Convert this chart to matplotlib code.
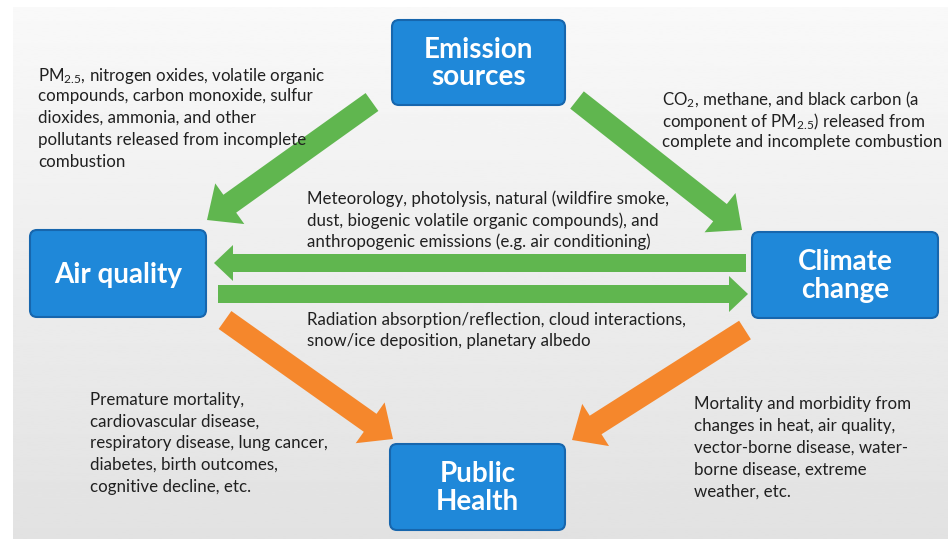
"""Air quality / climate change / health pathway diagram."""

import matplotlib.pyplot as plt
import numpy as np
from matplotlib.patches import FancyArrow, FancyBboxPatch

plt.rcParams["font.family"] = ["Lato", "DejaVu Sans"]
plt.rcParams["mathtext.fontset"] = "custom"
plt.rcParams["mathtext.rm"] = "Lato"
plt.rcParams["mathtext.it"] = "Lato:italic"
plt.rcParams["mathtext.bf"] = "Lato:bold"

W, H = 948, 539

# box labels and their extents (x0, y0, x1, y1) in pixels
box_labels = ["Emission\nsources", "Air quality", "Climate\nchange", "Public\nHealth"]
box_extents = [(392, 20, 565, 105), (30, 230, 206, 317), (752, 232, 938, 318), (390, 444, 565, 530)]

# arrows: tail (x, y) -> tip (x, y), shaft width, head width, head length
big_arrows = [((372, 102), (207, 220), "#60b64f"), ((577, 100), (742, 230), "#60b64f"),
              ((225, 320), (393, 439), "#f5872c"), ((745, 330), (572, 440), "#f5872c")]
flat_arrows = [((746, 263), (214, 263)), ((218, 294), (748, 294))]

notes = [
    ["PM$_{2.5}$, nitrogen oxides, volatile organic", "compounds, carbon monoxide, sulfur",
     "dioxides, ammonia, and other", "pollutants released from incomplete", "combustion"],
    ["CO$_2$, methane, and black carbon (a", "component of PM$_{2.5}$) released from",
     "complete and incomplete combustion"],
    ["Meteorology, photolysis, natural (wildfire smoke,",
     "dust, biogenic volatile organic compounds), and",
     "anthropogenic emissions (e.g. air conditioning)"],
    ["Radiation absorption/reflection, cloud interactions,", "snow/ice deposition, planetary albedo"],
    ["Premature mortality,", "cardiovascular disease,", "respiratory disease, lung cancer,",
     "diabetes, birth outcomes,", "cognitive decline, etc."],
    ["Mortality and morbidity from", "changes in heat, air quality,", "vector-borne disease, water-",
     "borne disease, extreme", "weather, etc."],
]
# left x and first line centre y of each note
note_pos = [(38, 73), (662, 97), (307, 197), (307, 318), (90, 398), (694, 403)]
PITCH = 21.8

fig = plt.figure(figsize=(W / 100, H / 100), dpi=100)
ax = fig.add_axes([0, 0, 1, 1])
ax.set_xlim(0, W)
ax.set_ylim(H, 0)
ax.axis("off")

# grey gradient panel
grad = np.linspace(0.975, 0.885, 256)[:, None]
ax.imshow(grad, cmap="gray", vmin=0, vmax=1, aspect="auto",
          extent=(13, W, H, 7), zorder=0)


def arrow(tail, tip, color, shaft, head, head_len):
    dx, dy = tip[0] - tail[0], tip[1] - tail[1]
    ax.add_patch(FancyArrow(tail[0], tail[1], dx, dy, width=shaft, head_width=head,
                            head_length=head_len, length_includes_head=True,
                            color=color, lw=0, zorder=2))


for tail, tip, color in big_arrows:
    arrow(tail, tip, color, 22, 50, 28)
for tail, tip in flat_arrows:
    arrow(tail, tip, "#60b64f", 18, 36, 19)

for label, (x0, y0, x1, y1) in zip(box_labels, box_extents):
    ax.add_patch(FancyBboxPatch((x0, y0), x1 - x0, y1 - y0,
                                boxstyle="round,pad=0,rounding_size=7",
                                facecolor="#1f88d9", edgecolor="#1766ad", lw=1.5, zorder=3))
    ax.text((x0 + x1) / 2, (y0 + y1) / 2 + 1, label, ha="center", va="center",
            color="white", fontsize=20, fontweight="bold", linespacing=1.05, zorder=4)

for lines, (x, y) in zip(notes, note_pos):
    for i, line in enumerate(lines):
        ax.text(x, y + i * PITCH, line, ha="left", va="center_baseline", fontsize=12.2,
                color="#202020", zorder=4)

fig.savefig("out.png", dpi=100)
